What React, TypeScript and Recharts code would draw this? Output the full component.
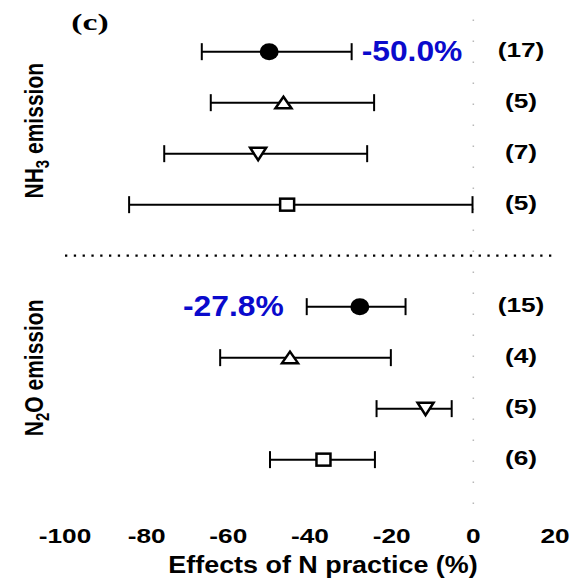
import {
  ScatterChart,
  Scatter,
  XAxis,
  YAxis,
  ErrorBar,
  ReferenceLine,
  ReferenceDot,
  LabelList,
} from "recharts";

// row layout: slots 0-3 = NH3, slot 4 = separator, slots 5-8 = N2O
const slots = [0, 1, 2, 3, 5, 6, 7, 8];
const means = [-50.0, -46.5, -52.7, -45.6, -27.8, -44.9, -11.7, -36.7];
const lows = [-66.5, -64.3, -75.7, -84.3, -40.8, -62.0, -23.7, -49.8];
const highs = [-29.8, -24.3, -26.0, -0.2, -16.6, -20.2, -5.3, -24.1];
const counts = [17, 5, 7, 5, 15, 4, 5, 6];
const markers = ["circle", "up", "down", "square", "circle", "up", "down", "square"];

const xTicks = [-100, -80, -60, -40, -20, 0, 20];
// group labels split around the subscript digit
const groupHead = ["NH", "N"];
const groupSub = ["3", "2"];
const groupTail = [" emission", "O emission"];
const groupCenters = [1.55, 6.2];
const separatorSlot = 4;

const summaries = [
  { row: 0, text: "-50.0%", side: "right" },
  { row: 4, text: "-27.8%", side: "left" },
];

const data = slots.map((s, i) => ({
  x: means[i],
  y: s,
  err: [means[i] - lows[i], highs[i] - means[i]],
  n: `(${counts[i]})`,
  marker: markers[i],
}));

const FONT = "'Liberation Sans', Arial, sans-serif";
const BLUE = "#0a0acc";

const Marker = (p: any) => {
  const { cx, cy, payload } = p;
  const sw = 2.5;
  switch (payload.marker) {
    case "circle":
      return <ellipse cx={cx} cy={cy} rx={9.5} ry={8.5} fill="#000" />;
    case "up":
      return (
        <path
          d={`M${cx - 8},${cy + 5.5} L${cx + 8},${cy + 5.5} L${cx},${cy - 6} Z`}
          fill="#fff"
          stroke="#000"
          strokeWidth={sw}
        />
      );
    case "down":
      return (
        <path
          d={`M${cx - 8},${cy - 6} L${cx + 8},${cy - 6} L${cx},${cy + 6.5} Z`}
          fill="#fff"
          stroke="#000"
          strokeWidth={sw}
        />
      );
    default:
      return (
        <rect
          x={cx - 7}
          y={cy - 6}
          width={14}
          height={12}
          fill="#fff"
          stroke="#000"
          strokeWidth={sw}
        />
      );
  }
};

const XTick = (p: any) => (
  <text
    transform={`translate(${p.x},543) scale(1.25,1)`}
    textAnchor="middle"
    fontFamily={FONT}
    fontWeight="bold"
    fontSize={21}
    fill="#000"
  >
    {p.payload.value}
  </text>
);

const YTick = (p: any) => {
  const i = p.index;
  return (
    <text
      transform={`translate(43,${p.y}) rotate(-90) scale(1,1.2)`}
      textAnchor="middle"
      fontFamily={FONT}
      fontWeight="bold"
      fontSize={21}
      fill="#000"
    >
      {groupHead[i]}
      <tspan fontSize={15} dy={5}>
        {groupSub[i]}
      </tspan>
      <tspan dy={-5}>{groupTail[i]}</tspan>
    </text>
  );
};

const XTitle = () => (
  <text
    transform="translate(323,573) scale(1.17,1)"
    textAnchor="middle"
    fontFamily={FONT}
    fontWeight="bold"
    fontSize={23}
    fill="#000"
  >
    Effects of N practice (%)
  </text>
);

const PanelTag = () => (
  <text
    transform="translate(90,30) scale(1.4,1)"
    textAnchor="middle"
    fontFamily="'Liberation Serif', 'Times New Roman', serif"
    fontWeight="bold"
    fontSize={24}
    fill="#000"
  >
    (c)
  </text>
);

const CountLabel = (p: any) => {
  const cy = p.y + (p.height || 0) / 2;
  return (
    <text
      transform={`translate(521,${cy + 5}) scale(1.25,1)`}
      textAnchor="middle"
      fontFamily={FONT}
      fontWeight="bold"
      fontSize={21}
      fill="#000"
    >
      {p.value}
    </text>
  );
};

export default function App() {
  return (
    <div style={{ position: "absolute", left: 0, top: 0, background: "#fff" }}>
      <ScatterChart
        width={583}
        height={580}
        margin={{ top: 17, right: 28, bottom: 16, left: 0 }}
      >
        <XAxis
          type="number"
          dataKey="x"
          domain={[-100, 20]}
          ticks={xTicks}
          axisLine={false}
          tickLine={false}
          tickSize={0}
          height={60}
          tick={<XTick />}
          label={<XTitle />}
        />
        <YAxis
          type="number"
          dataKey="y"
          domain={[-0.68, 8.87]}
          reversed
          ticks={groupCenters}
          width={65}
          axisLine={false}
          tickLine={false}
          tick={<YTick />}
          label={<PanelTag />}
        />
        <ReferenceLine
          x={0}
          stroke="#b8b8b8"
          strokeWidth={1.5}
          strokeDasharray="1.5 19.5"
        />
        <ReferenceLine
          y={separatorSlot}
          stroke="#000"
          strokeWidth={2.3}
          strokeDasharray="2.3 6.5"
        />
        <Scatter data={data} isAnimationActive={false} shape={() => <g />}>
          <ErrorBar
            dataKey="err"
            direction="x"
            width={8.5}
            stroke="#000"
            strokeWidth={2}
            isAnimationActive={false}
          />
        </Scatter>
        <Scatter data={data} isAnimationActive={false} shape={<Marker />}>
          <LabelList dataKey="n" content={<CountLabel />} />
        </Scatter>
        {summaries.map((s) => (
          <ReferenceDot
            key={s.text}
            x={s.side === "right" ? highs[s.row] : lows[s.row]}
            y={slots[s.row]}
            r={0}
            shape={(p: any) => (
              <text
                transform={`translate(${
                  s.side === "right" ? p.cx + 10 : p.cx - 23
                },${p.cy + 9}) scale(1.06,1)`}
                textAnchor={s.side === "right" ? "start" : "end"}
                fontFamily={FONT}
                fontWeight="bold"
                fontSize={30}
                fill={BLUE}
              >
                {s.text}
              </text>
            )}
          />
        ))}
      </ScatterChart>
    </div>
  );
}
